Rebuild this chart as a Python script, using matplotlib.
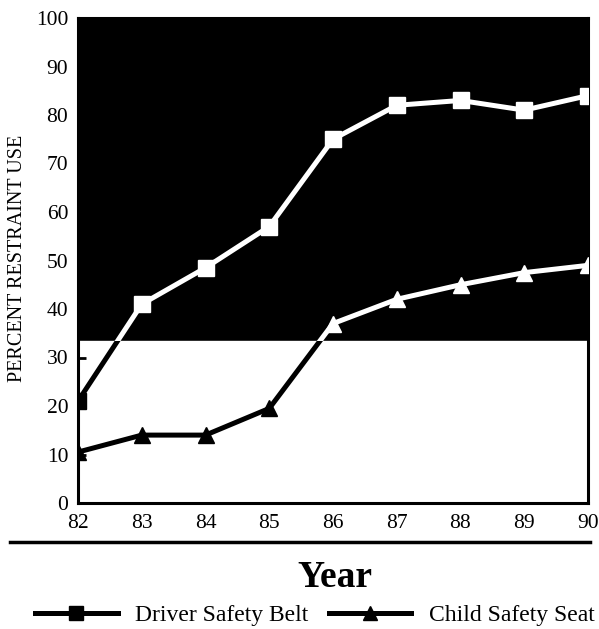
import numpy as np
import matplotlib.pyplot as plt

years = [82, 83, 84, 85, 86, 87, 88, 89, 90]
belt = [21, 41, 48.5, 57, 75, 82, 83, 81, 84]
seat = [10.5, 14, 14, 19.5, 37, 42, 45, 47.5, 49]
yticks = [0, 10, 20, 30, 40, 50, 60, 70, 80, 90, 100]

plt.rcParams['font.family'] = ['Liberation Serif', 'DejaVu Serif']

W, H = 599, 629
fig = plt.figure(figsize=(W / 100, H / 100), dpi=100)
ax = fig.add_axes([78/W, 1 - 503/H, 510/W, 485/H])

# dark upper band / light lower band
dark = ax.axhspan(33.5, 100, color='black', zorder=0)
light = ax.axhspan(0, 33.5, color='white', zorder=0)

for ys, mk in [(belt, 's'), (seat, '^')]:
    l1, = ax.plot(years, ys, color='white', lw=3.6, marker=mk, ms=11, zorder=3)
    l1.set_clip_path(dark)
    l2, = ax.plot(years, ys, color='black', lw=3.6, marker=mk, ms=11, zorder=3)
    l2.set_clip_path(light)

ax.set_xlim(82, 90)
ax.set_ylim(0, 100)
ax.set_xticks(years)
ax.set_xticklabels([str(y) for y in years], fontsize=15.5)
ax.set_yticks(yticks)
ax.set_yticklabels([str(t) for t in yticks], fontsize=15.5)
ax.tick_params(axis='x', length=0, pad=8)
ax.tick_params(axis='y', direction='in', length=6, width=2, pad=7)
for s in ax.spines.values():
    s.set_linewidth(2.2)
ax.set_ylabel('PERCENT RESTRAINT USE', fontsize=14.5)
ax.yaxis.set_label_coords(-0.1, (503 - 258) / 485)

# rule under the axis
fig.add_artist(plt.Line2D([10/W, 590/W], [1 - 542/H, 1 - 542/H],
                          color='black', lw=2.5))
fig.text(335/W, 1 - 587/H, 'Year', ha='center', va='baseline',
         fontsize=27, fontweight='bold')

h1 = plt.Line2D([], [], color='black', lw=3.6, marker='s', ms=10)
h2 = plt.Line2D([], [], color='black', lw=3.6, marker='^', ms=10)
fig.legend([h1, h2], ['Driver Safety Belt', 'Child Safety Seat'],
           loc='center', bbox_to_anchor=(315/W, 1 - 615/H), ncol=2,
           frameon=False, fontsize=17, handlelength=3.5, columnspacing=0.85,
           handletextpad=0.75, borderaxespad=0)

fig.savefig('out.png', dpi=100)
